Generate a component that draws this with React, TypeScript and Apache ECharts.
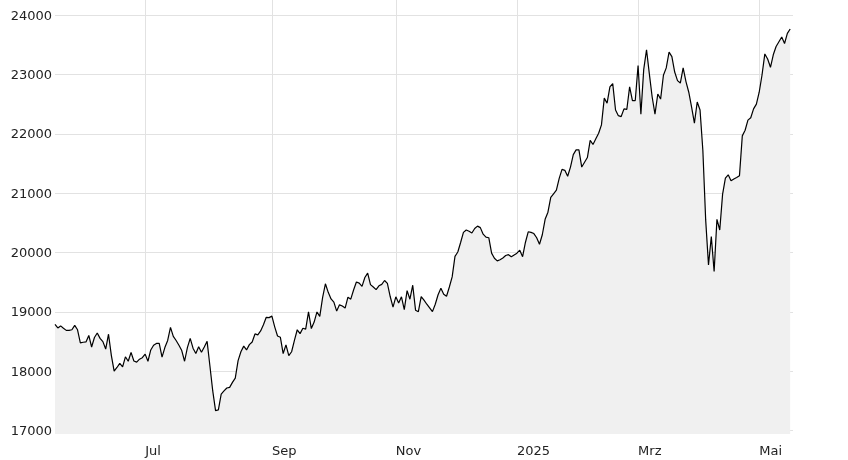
import React, { useEffect, useRef } from 'react';
import * as echarts from 'echarts';

// First weekday shown on the axis; one empty weekday slot is kept after the last close.
const START_DATE = '2024-05-16';
const EMPTY_SLOTS_AFTER = 1;

// Daily closes (one per weekday).
const closesMayJun2024: number[] = [
  18790, 18730, 18765, 18725, 18690, 18690, 18700, 18775, 18700, 18480,
  18490, 18495, 18605, 18410, 18570, 18645, 18555, 18500, 18375, 18625,
  18270, 18005, 18065, 18135, 18075, 18245, 18170, 18320, 18175, 18155,
  18205, 18230,
];
const closesJulAug2024: number[] = [
  18290, 18170, 18360, 18440, 18470, 18470, 18240, 18400, 18520, 18740,
  18590, 18520, 18440, 18350, 18170, 18400, 18555, 18390, 18300, 18415,
  18320, 18410, 18505, 18090, 17670, 17340, 17350, 17615, 17670, 17720,
  17730, 17815, 17885, 18180, 18330, 18425, 18360, 18450, 18495, 18630,
  18615, 18680, 18785, 18910, 18905,
];
const closesSepOct2024: number[] = [
  18930, 18750, 18595, 18575, 18300, 18445, 18265, 18330, 18520, 18700,
  18635, 18725, 18710, 19000, 18720, 18830, 19000, 18925, 19240, 19475,
  19330, 19220, 19165, 19015, 19120, 19100, 19065, 19250, 19215, 19370,
  19505, 19485, 19430, 19580, 19655, 19460, 19420, 19375, 19440, 19465,
  19530, 19480, 19260, 19080, 19255, 19150, 19255, 19040, 19360, 19215,
  19450,
];
const closesNovDec2024: number[] = [
  19030, 19005, 19260, 19200, 19130, 19070, 19006, 19130, 19290, 19400,
  19300, 19265, 19420, 19590, 19935, 20010, 20170, 20340, 20380, 20360,
  20330, 20405, 20445, 20420, 20310, 20260, 20250,
];
const closesDecFeb2025: number[] = [
  19990, 19905, 19860, 19880, 19910, 19950, 19965, 19930, 19960, 19990,
  20040, 19930, 20170, 20350, 20340, 20320, 20250, 20140, 20300, 20560,
  20680, 20930, 20990, 21050, 21250, 21400, 21385, 21285, 21440, 21650,
  21730, 21730, 21440, 21520, 21600, 21890, 21820, 21915, 22010, 22150,
  22600, 22515, 22790, 22845, 22400, 22305, 22290, 22420, 22410, 22790,
  22560, 22560,
];
const closesMarMay2025: number[] = [
  23150, 22330, 23080, 23415, 23010, 22620, 22330, 22670, 22585, 22985,
  23110, 23375, 23300, 23040, 22895, 22855, 23110, 22880, 22700, 22450,
  22180, 22535, 22400, 21720, 20550, 19790, 20270, 19680, 20560, 20380,
  20980, 21255, 21310, 21210, 21240, 21265, 21295, 21965, 22060, 22230,
  22270, 22420, 22500, 22700, 22990, 23345, 23260, 23120, 23330, 23470,
  23550, 23630, 23520, 23690, 23765,
];

// x-axis tick labels at the first weekday of every second month
const monthTicks: { date: string; label: string }[] = [
  { date: '2024-07-01', label: 'Jul' },
  { date: '2024-09-02', label: 'Sep' },
  { date: '2024-11-01', label: 'Nov' },
  { date: '2025-01-01', label: '2025' },
  { date: '2025-03-03', label: 'Mrz' },
  { date: '2025-05-01', label: 'Mai' },
];

// y-axis range
const Y_MIN = 16945;
const Y_MAX = 24253;
const Y_STEP = 1000;

const closes: number[] = [
  ...closesMayJun2024,
  ...closesJulAug2024,
  ...closesSepOct2024,
  ...closesNovDec2024,
  ...closesDecFeb2025,
  ...closesMarMay2025,
];

function weekdayCategories(start: string, count: number): string[] {
  const out: string[] = [];
  const d = new Date(start + 'T00:00:00Z');
  while (out.length < count) {
    const wd = d.getUTCDay();
    if (wd !== 0 && wd !== 6) out.push(d.toISOString().slice(0, 10));
    d.setUTCDate(d.getUTCDate() + 1);
  }
  return out;
}

const categories = weekdayCategories(START_DATE, closes.length + EMPTY_SLOTS_AFTER);
const tickLabelByDate: Record<string, string> = {};
monthTicks.forEach((t) => {
  tickLabelByDate[t.date] = t.label;
});
const isMonthTick = (_index: number, value: string) => tickLabelByDate[value] !== undefined;

const FONT = '"DejaVu Sans", Verdana, sans-serif';
const TEXT_COLOR = '#222';
const GRID_COLOR = '#e2e2e2';

export default function App() {
  const ref = useRef<HTMLDivElement>(null);

  useEffect(() => {
    if (!ref.current) return;
    const chart = echarts.init(ref.current, undefined, { renderer: 'svg' });
    chart.setOption({
      animation: false,
      grid: {
        left: 55,
        right: 55,
        top: 0,
        bottom: 26,
        containLabel: false,
        outerBoundsMode: 'none',
      },
      xAxis: {
        type: 'category',
        data: categories,
        boundaryGap: false,
        axisLine: { show: false },
        axisTick: { show: false },
        axisLabel: {
          interval: isMonthTick,
          formatter: (value: string) => tickLabelByDate[value] ?? '',
          align: 'left',
          margin: 10,
          color: TEXT_COLOR,
          fontSize: 13,
          fontFamily: FONT,
        },
        splitLine: {
          show: true,
          interval: isMonthTick,
          lineStyle: { color: GRID_COLOR, width: 1 },
        },
      },
      yAxis: {
        type: 'value',
        min: Y_MIN,
        max: Y_MAX,
        minInterval: Y_STEP,
        maxInterval: Y_STEP,
        splitNumber: 7,
        axisLine: { show: false },
        axisTick: { show: false },
        axisLabel: {
          formatter: (v: number) => (v % Y_STEP === 0 ? String(v) : ''),
          margin: 3,
          color: TEXT_COLOR,
          fontSize: 13,
          fontFamily: FONT,
        },
        splitLine: {
          show: true,
          showMinLine: false,
          showMaxLine: false,
          lineStyle: { color: GRID_COLOR, width: 1 },
        },
      },
      series: [
        {
          type: 'line',
          data: closes,
          showSymbol: false,
          symbol: 'none',
          silent: true,
          lineStyle: { color: '#000', width: 1.2 },
          areaStyle: { color: '#f0f0f0', opacity: 1 },
        },
      ],
    });
    return () => chart.dispose();
  }, []);

  return (
    <div
      ref={ref}
      style={{ position: 'fixed', left: 0, top: 0, width: 848, height: 460 }}
    />
  );
}
